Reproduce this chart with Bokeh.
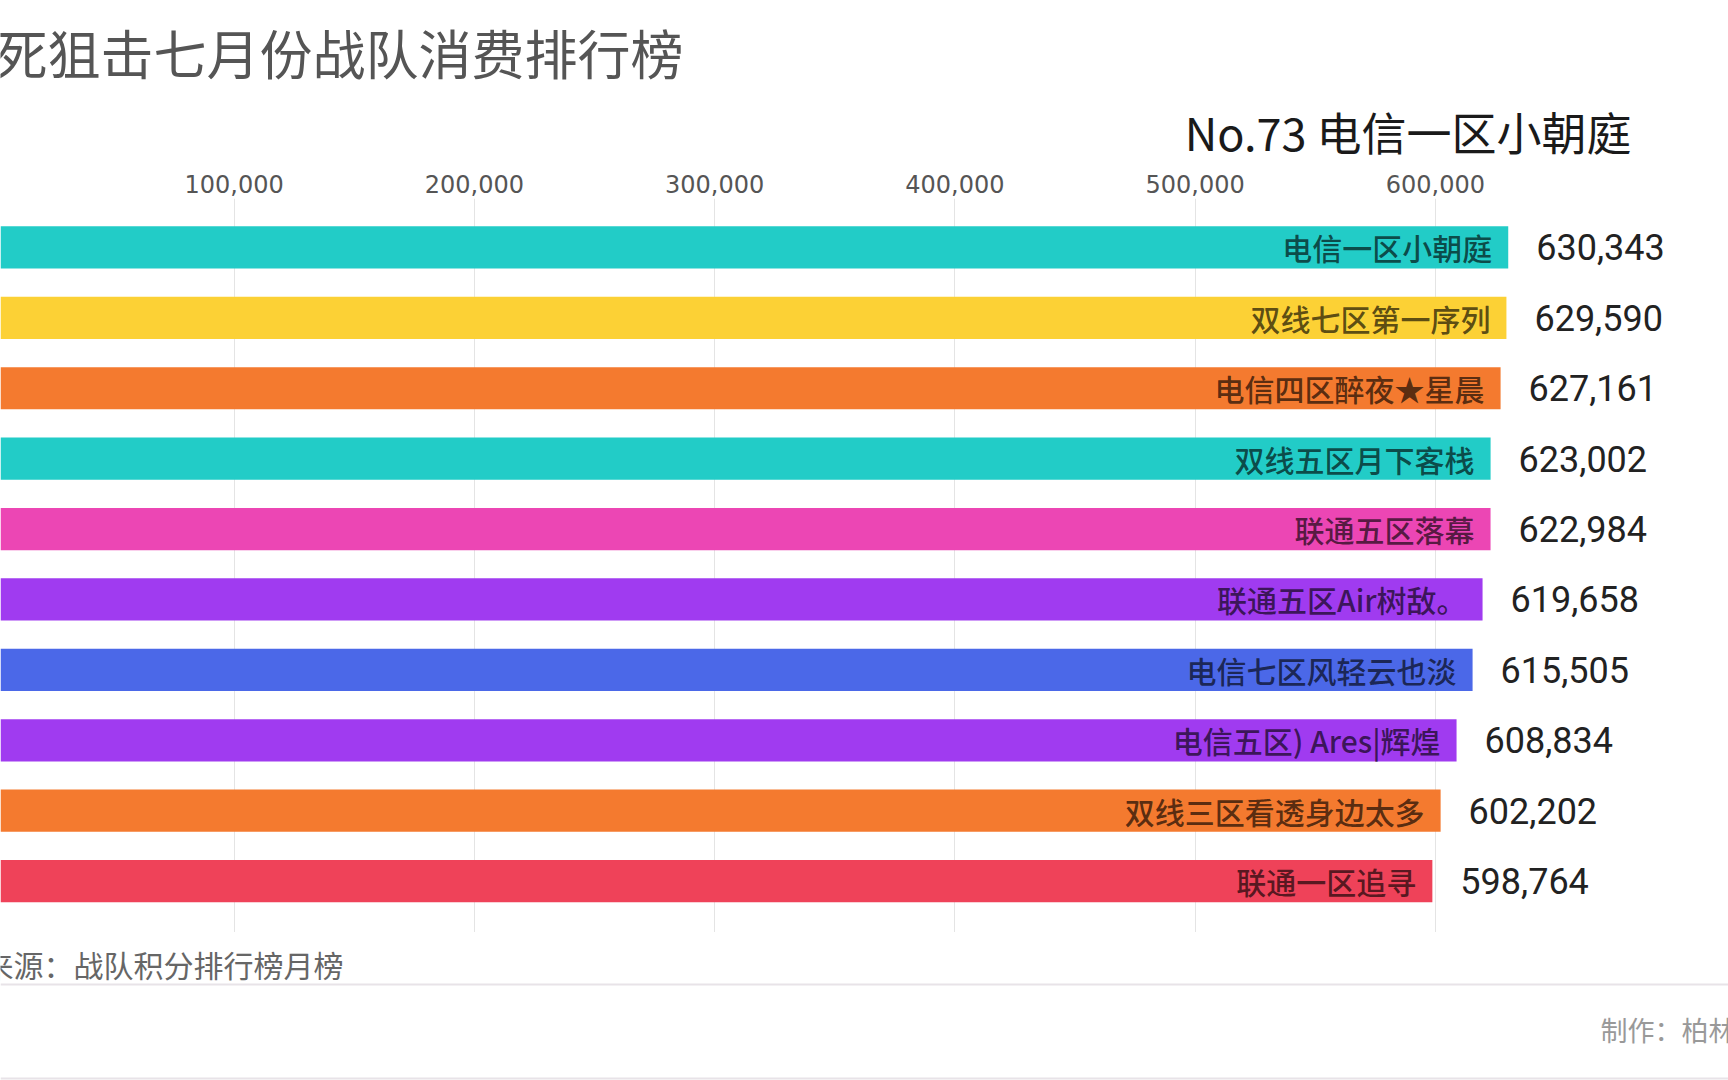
from bokeh.plotting import figure
from bokeh.models import (Range1d, FixedTicker, NumeralTickFormatter, Label, Span,
                          ColumnDataSource)
from bokeh.layouts import column
from bokeh.embed import file_html
from bokeh.resources import INLINE
from bokeh.core.properties import value

# ---- data ----
teams = ["电信一区小朝庭", "双线七区第一序列", "电信四区醉夜★星晨", "双线五区月下客栈",
         "联通五区落幕", "联通五区Air树敌。", "电信七区风轻云也淡", "电信五区) Ares|辉煌",
         "双线三区看透身边太多", "联通一区追寻"]
spend = [630343, 629590, 627161, 623002, 622984, 619658, 615505, 608834, 602202, 598764]
ranks = list(range(1, len(teams) + 1))
colors = ["#22CCC7", "#FCD135", "#F47A2F", "#22CCC7", "#EC46B4",
          "#A03BF0", "#4B68E8", "#A03BF0", "#F47A2F", "#EF4259"]
x_ticks = [0, 100000, 200000, 300000, 400000, 500000, 600000]
title_text = "死狙击七月份战队消费排行榜"
period_text = "No.73 电信一区小朝庭"
source_text = "来源：战队积分排行榜月榜"
credit_text = "制作：柏林"

src = ColumnDataSource(dict(
    team=teams, spend=spend, rank=ranks, color=colors,
    label=[f"{v:,}" for v in spend],
))

CJK = "Noto Sans CJK SC"
CJK_MED = "Noto Sans CJK SC Medium"
W = 1728


def blank(h):
    b = figure(width=W, height=h, output_backend="svg", toolbar_location=None,
               x_range=Range1d(0, W), y_range=Range1d(0, h),
               x_axis_location=None, y_axis_location=None,
               min_border=0, min_border_left=0, min_border_right=0,
               min_border_top=0, min_border_bottom=0)
    b.outline_line_color = None
    b.grid.grid_line_color = None
    b.border_fill_color = "white"
    b.background_fill_color = "white"
    return b


# ---- header ----
HEAD = 165
TOP = 198 - HEAD          # axis strip above the plot frame
h = blank(HEAD)
h.add_layout(Label(x=-6, y=HEAD - 51, text=title_text, text_font=CJK,
                   text_font_size="53px", text_color="#555555",
                   text_baseline="middle", text_align="left"))
h.add_layout(Label(x=1631, y=HEAD - 131, text=period_text, text_font=CJK,
                   text_font_size="45px", text_color="#1a1a1a",
                   text_baseline="middle", text_align="right"))

# ---- main chart ----
p = figure(width=W, height=TOP + 734, output_backend="svg", toolbar_location=None,
           x_range=Range1d(2750, 722030), y_range=Range1d(10.73, 0.305),
           x_axis_location="above", y_axis_location=None,
           min_border_left=0, min_border_right=0, min_border_top=TOP,
           min_border_bottom=0)
p.outline_line_color = None
p.background_fill_color = "white"
p.border_fill_color = "white"

ax = p.xaxis[0]
ax.ticker = FixedTicker(ticks=x_ticks)
ax.formatter = NumeralTickFormatter(format="0,0")
ax.axis_line_color = None
ax.major_tick_line_color = None
ax.minor_tick_line_color = None
ax.major_label_standoff = 0
ax.major_label_text_font = "DejaVu Sans"
ax.major_label_text_font_size = "24px"
ax.major_label_text_color = "#555555"

p.xgrid.grid_line_color = "#e4e4e4"
p.xgrid.grid_line_width = 1
p.ygrid.grid_line_color = None

p.hbar(y="rank", left=0, right="spend", height=0.6, fill_color="color",
       line_color=None, source=src)

p.text(x="spend", y="rank", text="team", x_offset=-16, text_align="right",
       text_baseline="middle", text_font=value(CJK_MED), text_font_size="30px",
       text_color="black", text_alpha=0.65, source=src)

p.text(x="spend", y="rank", text="label", x_offset=28, text_align="left",
       text_baseline="middle", text_font=value("Roboto"), text_font_size="36px",
       text_color="#222222", source=src)

# ---- footer ----
FOOT = 1080 - HEAD - (TOP + 734)   # 148
f = blank(FOOT)
f.add_layout(Label(x=-17, y=FOOT - 31, text=source_text, text_font=CJK,
                   text_font_size="30px", text_color="#666666",
                   text_baseline="middle", text_align="left"))
f.add_layout(Span(location=FOOT - 52, dimension="width", line_color="#e8e3e8",
                  line_width=2))
f.add_layout(Span(location=2, dimension="width", line_color="#e8e3e8", line_width=2))
f.add_layout(Label(x=1600, y=FOOT - 97, text=credit_text, text_font=CJK,
                   text_font_size="27px", text_color="#999999",
                   text_baseline="middle", text_align="left"))

layout = column(h, p, f, spacing=0)
open("out.html", "w").write(file_html(layout, INLINE))
